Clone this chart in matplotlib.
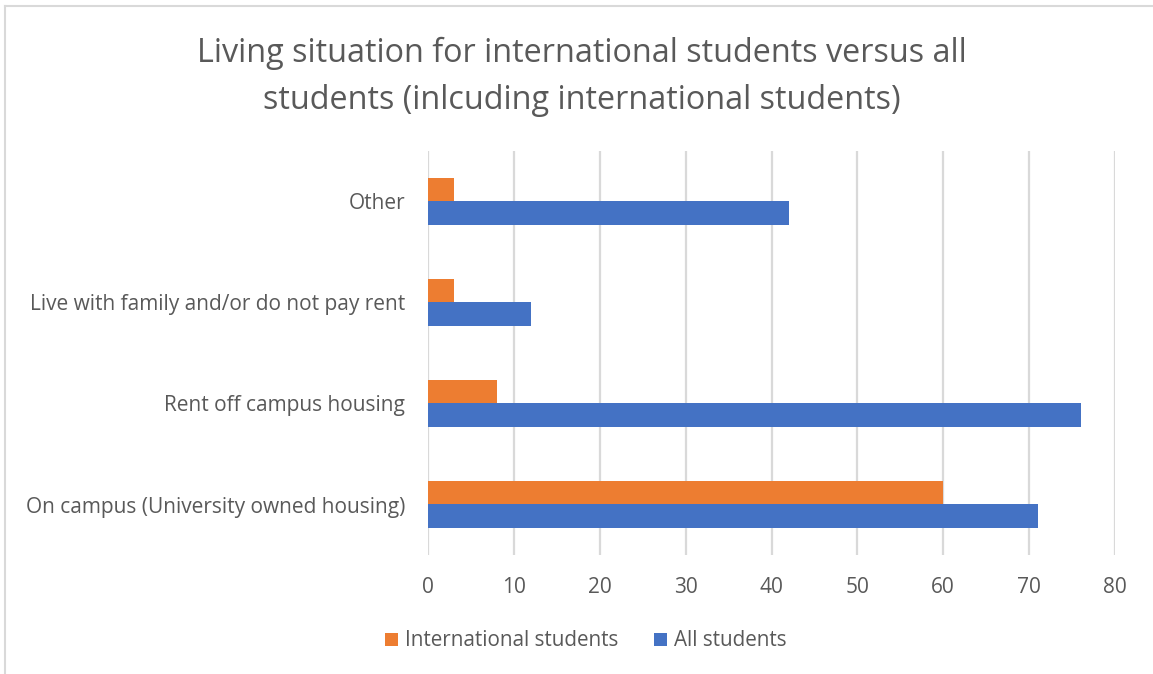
import matplotlib.pyplot as plt
from matplotlib.lines import Line2D
import numpy as np

categories = ["On campus (University owned housing)", "Rent off campus housing",
              "Live with family and/or do not pay rent", "Other"]
international = [60, 8, 3, 3]
all_students = [71, 76, 12, 42]
x_ticks = [0, 10, 20, 30, 40, 50, 60, 70, 80]

plt.rcParams['font.family'] = ['Open Sans', 'DejaVu Sans']
text_color = '#595959'
orange = '#ED7D31'
blue = '#4472C4'

W, H = 1153, 674
fig = plt.figure(figsize=(W / 100, H / 100), dpi=100)
ax = fig.add_axes([428 / W, 1 - 555 / H, (1115 - 428) / W, (555 - 151) / H])

y = np.arange(len(categories))
h = 0.237
ax.barh(y + h / 2, international, height=h, color=orange, label="International students", zorder=3)
ax.barh(y - h / 2, all_students, height=h, color=blue, label="All students", zorder=3)

ax.set_xlim(0, 80)
ax.set_ylim(-0.5, 3.5)
ax.set_xticks(x_ticks)
ax.set_yticks(y)
ax.set_yticklabels(categories)
ax.grid(axis='x', color='#d9d9d9', linewidth=1.6, zorder=0)
for s in ax.spines.values():
    s.set_visible(False)
ax.tick_params(length=0, colors=text_color, labelsize=15)
ax.tick_params(axis='x', pad=16)
ax.tick_params(axis='y', pad=16.5)

fig.text(582 / W, 1 - 77 / H,
         "Living situation for international students versus all\nstudents (inlcuding international students)",
         ha='center', va='center', fontsize=23.3, color=text_color, linespacing=1.55)

fig.legend(loc='center', bbox_to_anchor=(586 / W, 1 - 641 / H), ncol=2, frameon=False,
           fontsize=14.9, labelcolor=text_color, handlelength=0.6, handleheight=0.6,
           handletextpad=0.35, columnspacing=1.75)

# chart border (top and left edges only, rest is cropped)
fig.add_artist(Line2D([5 / W, 1], [1 - 6 / H, 1 - 6 / H], color='#d9d9d9', linewidth=1.5))
fig.add_artist(Line2D([5 / W, 5 / W], [0, 1 - 6 / H], color='#d9d9d9', linewidth=1.5))

fig.savefig('out.png', dpi=100)
